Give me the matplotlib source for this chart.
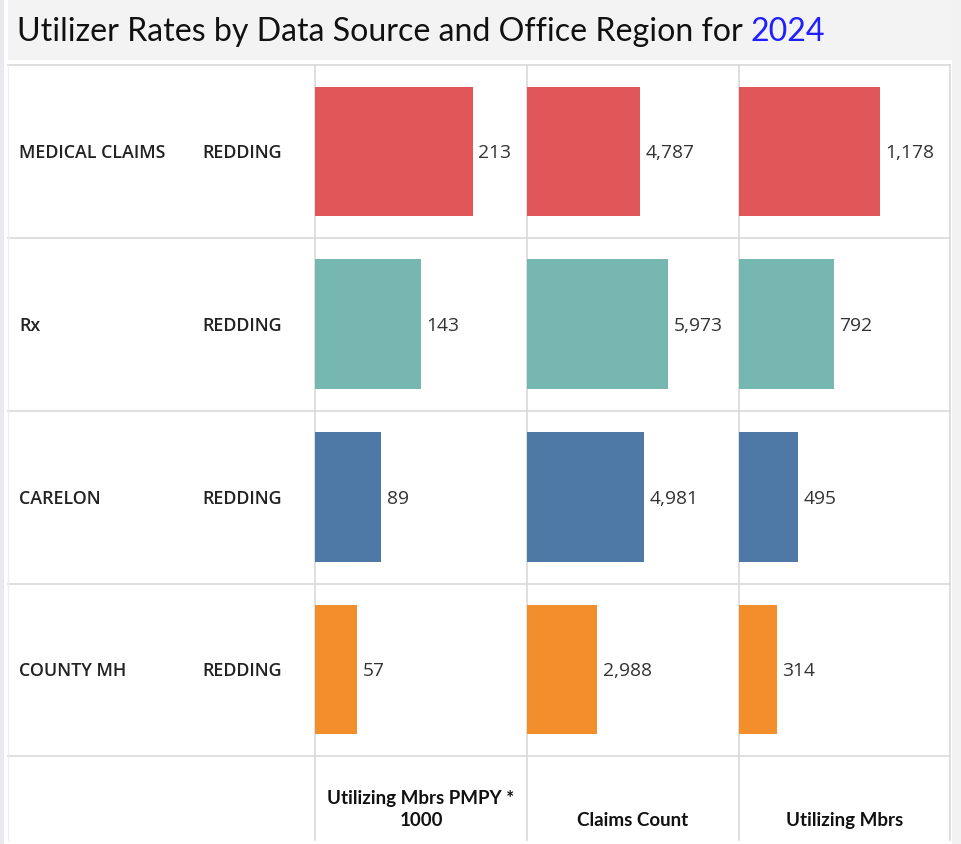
import matplotlib.pyplot as plt
from matplotlib.patches import Rectangle

SOURCES = ["MEDICAL CLAIMS", "Rx", "CARELON", "COUNTY MH"]
REGIONS = ["REDDING", "REDDING", "REDDING", "REDDING"]
PMPY = [213, 143, 89, 57]
CLAIMS = [4787, 5973, 4981, 2988]
MBRS = [1178, 792, 495, 314]
MEASURES = ["Utilizing Mbrs PMPY *\n1000", "Claims Count", "Utilizing Mbrs"]
YEAR = "2024"

COLORS = ["#e15759", "#76b7b2", "#4e79a7", "#f28e2b"]
GRID = "#d9d9d9"
W, H = 962, 844

fig = plt.figure(figsize=(W / 100, H / 100), dpi=100, facecolor="white")

# background canvas in pixel coordinates
bg = fig.add_axes([0, 0, 1, 1])
bg.set_xlim(0, W)
bg.set_ylim(H, 0)
bg.axis("off")
bg.add_patch(Rectangle((0, 0), 4, H, color="#e8eaee", lw=0))
bg.add_patch(Rectangle((952, 0), 10, H, color="#f2f2f2", lw=0))
bg.add_patch(Rectangle((8, 0), 944, 60, color="#f3f3f3", lw=0))

title = bg.text(17, 32, "Utilizer Rates by Data Source and Office Region for ",
                fontsize=23.1, family="Lato", va="center", ha="left", color="#111111")
fig.canvas.draw()
bb = title.get_window_extent()
bg.text(bb.x1, 32, YEAR, fontsize=23.1, family="Lato", va="center", ha="left", color="#1f1fff")

# table grid
COL_X = [315, 527, 739, 950]
ROW_Y = [65, 238, 411, 584, 756]
for y in ROW_Y:
    bg.plot([8, 950], [y, y], color=GRID, lw=1.2)
for x in COL_X:
    bg.plot([x, x], [65, 840], color=GRID, lw=1.2)
bg.plot([8, 8], [65, 840], color="#eeeeee", lw=1)

# row headers
for i, (src, reg) in enumerate(zip(SOURCES, REGIONS)):
    yc = (ROW_Y[i] + ROW_Y[i + 1]) / 2 + 1.5
    bg.text(19, yc, src, fontsize=12.9, family="Open Sans", weight="semibold",
            va="center", color="#222222")
    bg.text(202, yc, reg, fontsize=12.9, family="Open Sans", weight="semibold",
            va="center", color="#222222")

# bar columns
series = [PMPY, CLAIMS, MBRS]
xmax = [286, 8990, 1765]
for j, vals in enumerate(series):
    x0, x1 = COL_X[j], COL_X[j + 1]
    ax = fig.add_axes([x0 / W, 1 - ROW_Y[-1] / H, (x1 - x0) / W, (ROW_Y[-1] - ROW_Y[0]) / H])
    ax.patch.set_alpha(0)
    ax.barh(range(len(vals)), vals, height=0.75, color=COLORS, linewidth=0)
    ax.set_xlim(0, xmax[j])
    ax.set_ylim(len(vals) - 0.5, -0.5)
    ax.axis("off")
    for i, v in enumerate(vals):
        ax.annotate(f"{v:,}", xy=(v, i), xytext=(4, -1.2), textcoords="offset points",
                    va="center", ha="left", fontsize=13.9, family="Open Sans", color="#333333")
    bg.text((x0 + x1) / 2, 829, MEASURES[j], fontsize=13.5, family="Lato", weight="bold",
            ha="center", va="bottom", linespacing=1.38, color="#111111")

fig.savefig("out.png", dpi=100, facecolor="white")
